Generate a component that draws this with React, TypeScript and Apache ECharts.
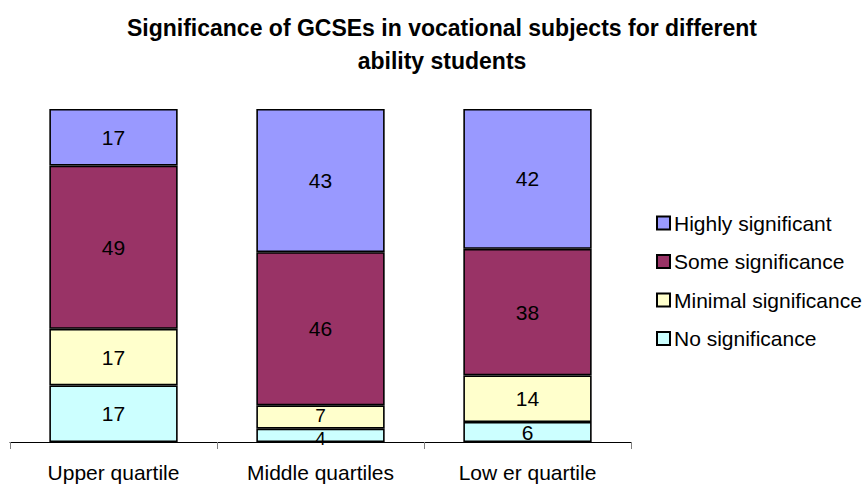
import React, { useEffect, useRef } from "react";
import * as echarts from "echarts";

const categories = ["Upper quartile", "Middle quartiles", "Low er quartile"];
const noSignificance = [17, 4, 6];
const minimalSignificance = [17, 7, 14];
const someSignificance = [49, 46, 38];
const highlySignificant = [17, 43, 42];

const seriesNames = ["No significance", "Minimal significance", "Some significance", "Highly significant"];
const seriesColors = ["#CCFFFF", "#FFFFCC", "#993366", "#9999FF"];
const seriesData = [noSignificance, minimalSignificance, someSignificance, highlySignificant];

const FONT = "'Liberation Sans', Arial, sans-serif";

export default function App() {
  const ref = useRef<HTMLDivElement>(null);
  useEffect(() => {
    if (!ref.current) return;
    const chart = echarts.init(ref.current, undefined, { renderer: "svg" });
    // two thin adjacent segments in one bar: nudge their labels apart so they don't collide
    const labelFor = (si: number, ci: number) => {
      if (si > 1) return undefined;
      if (noSignificance[ci] >= 10 || minimalSignificance[ci] >= 10) return undefined;
      return { fontSize: 19, offset: [0, si === 0 ? 3 : -2] };
    };
    chart.setOption({
      animation: false,
      backgroundColor: "#ffffff",
      title: {
        text: "Significance of GCSEs in vocational subjects for different\nability students",
        left: 437,
        textAlign: "center",
        top: 6,
        textStyle: { fontFamily: FONT, fontSize: 23, fontWeight: "bold", color: "#000", lineHeight: 33 },
      },
      legend: {
        orient: "vertical",
        left: 651,
        top: 206,
        itemWidth: 13,
        itemHeight: 13,
        itemGap: 14.5,
        icon: "rect",
        data: ["Highly significant", "Some significance", "Minimal significance", "No significance"],
        textStyle: { fontFamily: FONT, fontSize: 21, color: "#000", lineHeight: 24, padding: [0, 0, 0, -1] },
      },
      grid: { left: 10, right: 233, top: 109, bottom: 43, containLabel: false },
      xAxis: {
        type: "category",
        data: categories,
        axisLine: { lineStyle: { color: "#000", width: 1 } },
        axisTick: { show: true, length: 7, lineStyle: { color: "#808080" } },
        axisLabel: { fontFamily: FONT, fontSize: 21, color: "#000", margin: 20 },
      },
      yAxis: {
        type: "value",
        min: 0,
        max: 100,
        show: false,
        splitLine: { show: false },
      },
      series: seriesData.map((d, i) => ({
        name: seriesNames[i],
        type: "bar",
        stack: "total",
        data: d.map((v, j) => {
          const l = labelFor(i, j);
          return l ? { value: v, label: l } : v;
        }),
        barWidth: "62%",
        itemStyle: { color: seriesColors[i], borderColor: "#000", borderWidth: 1.6 },
        label: {
          show: true,
          position: "inside",
          fontFamily: FONT,
          fontSize: 21,
          lineHeight: 16,
          color: "#000",
        },
      })),
    });
    return () => chart.dispose();
  }, []);
  return <div ref={ref} style={{ width: 864, height: 485, position: "absolute", left: 0, top: 0 }} />;
}
